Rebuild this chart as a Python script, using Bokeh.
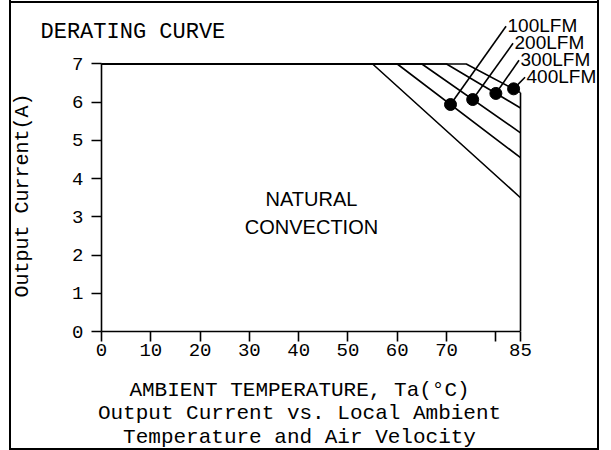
import math
from bokeh.plotting import figure
from bokeh.models import Range1d, FixedTicker, Label
from bokeh.embed import file_html
from bokeh.resources import INLINE

# ---------------- data ----------------
series = ["Natural Convection", "100LFM", "200LFM", "300LFM", "400LFM"]
knee_temp = [55, 60, 65, 70, 74]            # deg C where derating starts
end_current = [3.5, 4.55, 5.2, 5.85, 6.25]  # A at 85 deg C
max_current = 7.0
max_temp = 85

dot_labels = ["100LFM", "200LFM", "300LFM", "400LFM"]
dot_temp = [70.8, 75.3, 80.0, 83.6]
dot_current = [5.94, 6.07, 6.23, 6.35]

x_ticks = [0, 10, 20, 30, 40, 50, 60, 70, 80, 85]
x_tick_labels = ["0", "10", "20", "30", "40", "50", "60", "70", "", "85"]
y_ticks = [0, 1, 2, 3, 4, 5, 6, 7]

# ---------------- figure ----------------
W, H = 586, 471
p = figure(width=W, height=H, output_backend="svg", toolbar_location=None,
           x_range=Range1d(0, 100.62), y_range=Range1d(0, 8.4785),
           min_border_left=90, min_border_right=0, min_border_top=30,
           min_border_bottom=117)
p.margin = (-23, 0, -30, 11)
p.styles = {"outline": "2px solid black"}
p.stylesheets = [
    ":host { position: relative; }"
    ":host::after { content: ''; position: absolute; left: -2px; right: -2px;"
    " top: 24px; height: 2px; background: black; pointer-events: none; z-index: 10; }"
]
p.outline_line_color = None
p.xgrid.visible = False
p.ygrid.visible = False
p.background_fill_color = "white"
p.border_fill_color = "white"

mono = "Liberation Mono"
sans = "Liberation Sans"

xa = p.xaxis[0]
xa.ticker = FixedTicker(ticks=x_ticks)
xa.major_label_overrides = {t: l for t, l in zip(x_ticks, x_tick_labels)}
xa.bounds = (0, max_temp)
ya = p.yaxis[0]
ya.ticker = FixedTicker(ticks=y_ticks)
ya.bounds = (0, max_current)
for ax in (xa, ya):
    ax.axis_line_color = "black"
    ax.axis_line_width = 1.6
    ax.major_tick_line_color = "black"
    ax.major_tick_line_width = 1.6
    ax.major_tick_out = 10
    ax.major_tick_in = 0
    ax.minor_tick_line_color = None
    ax.major_label_text_font = mono
    ax.major_label_text_font_size = "19px"
    ax.major_label_text_color = "black"
xa.major_label_standoff = 2
ya.major_label_standoff = 8

# curves
xs = [[0, k, max_temp] for k in knee_temp]
ys = [[max_current, max_current, e] for e in end_current]
p.multi_line(xs, ys, line_color="black", line_width=1.6)
# right boundary at max temperature
p.segment(x0=[max_temp], y0=[0], x1=[max_temp], y1=[end_current[-1]],
          line_color="black", line_width=1.6)

# dots, leaders and labels
lab_x = [82.37, 83.79, 85.0, 86.22]
lab_y = [8.008, 7.563, 7.118, 6.673]
p.segment(x0=dot_temp, y0=dot_current,
          x1=[x - 0.3 for x in lab_x], y1=[y - 0.02 for y in lab_y],
          line_color="black", line_width=1.6)
p.scatter(dot_temp, dot_current, size=12, marker="circle",
          fill_color="black", line_color="black")
for t, x, y in zip(dot_labels, lab_x, lab_y):
    p.add_layout(Label(x=x, y=y, text=t, text_font=sans, text_font_size="19px",
                       text_align="left", text_baseline="alphabetic",
                       text_color="black"))

# texts
def lab(text, x, y, font, size, align="center", baseline="alphabetic",
        angle=0, place=None):
    l = Label(x=x, y=y, text=text, text_font=font, text_font_size=size,
              text_align=align, text_baseline=baseline, angle=angle,
              text_color="black")
    if place is None:
        p.add_layout(l)
    else:
        p.add_layout(l, place)

lab("DERATING CURVE", -12.38, 7.825, mono, "22px", align="left", place="above")
lab("NATURAL", 42.6, 3.455, sans, "20px", baseline="middle")
lab("CONVECTION", 42.6, 2.735, sans, "20px", baseline="middle")
lab("AMBIENT TEMPERATURE, Ta(°C)", 40.17, -1.544, mono, "21px", place="below")
lab("Output Current vs. Local Ambient", 40.17, -2.146, mono, "21px", place="below")
lab("Temperature and Air Velocity", 40.17, -2.774, mono, "21px", place="below")
lab("Output Current(A)", -16.03, 3.56, mono, "20px", baseline="middle",
    angle=math.pi / 2, place="left")

open("out.html", "w").write(file_html(p, INLINE))
